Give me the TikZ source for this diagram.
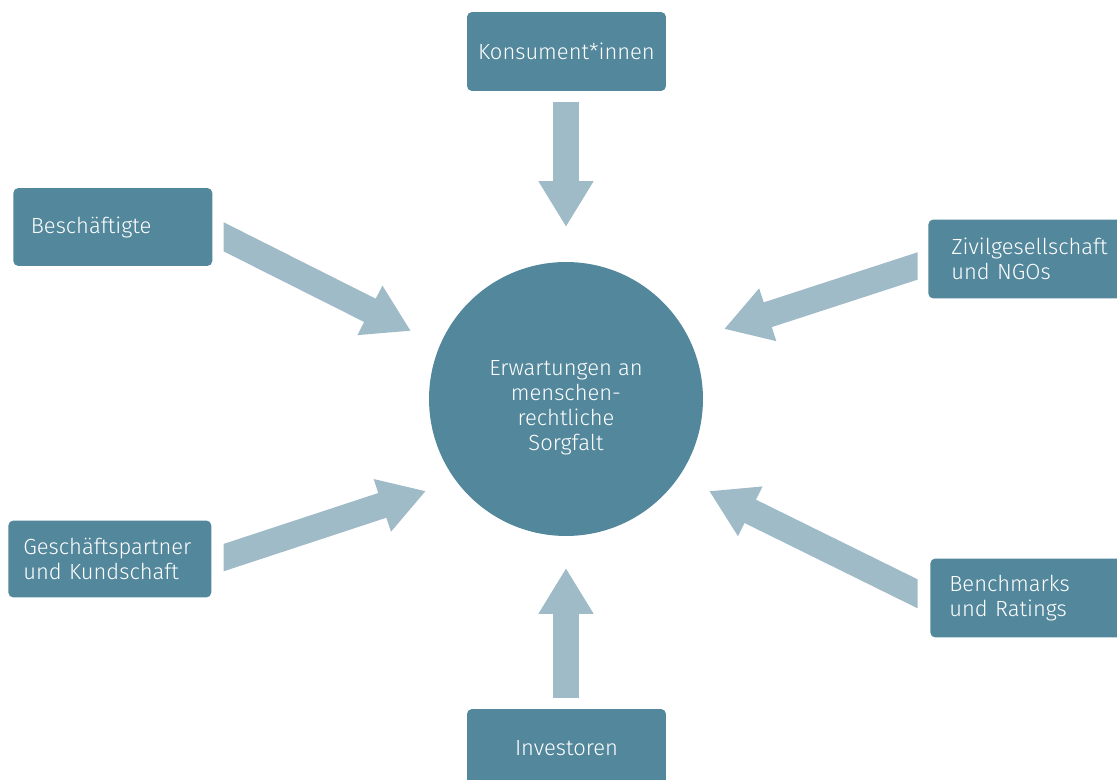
\documentclass[tikz,border=0pt]{standalone}
\usepackage{fontspec}
\setmainfont{Fira Sans}[UprightFont=* Light]
\usepackage{tikz}
\usetikzlibrary{arrows.meta}
\definecolor{stakeblue}{RGB}{83,135,155}
\definecolor{flowblue}{RGB}{158,187,199}
\tikzset{
	blk/.style={fill=stakeblue, rounded corners=0.1cm, text=white, align=center,
		minimum width=3.98cm, minimum height=1.58cm,
		font=\fontsize{12.5}{14.2}\selectfont},
	side/.style={blk, anchor=west, align=left, text width=3.26cm, inner xsep=0.36cm},
	hub/.style={circle, fill=stakeblue, text=white, align=center,
		minimum size=5.48cm, text height=61.3pt, text depth=3pt,
		font=\fontsize{12.5}{14.2}\selectfont},
	flow/.style={draw=flowblue, line width=0.52cm,
		-{Triangle[width=1.04cm,length=0.92cm]}},
}

\begin{document}
\begin{tikzpicture}[x=0.02cm, y=-0.02cm]
	\useasboundingbox (0,0) rectangle (1117,780);
	\clip (0,0) rectangle (1117,780);
	% centre
	\node[hub] at (566,399) (hub) {Erwartungen an\\menschen-\\rechtliche\\Sorgfalt};
	% stakeholders
	\node[blk] at (566.5,51.5) (kons) {Konsument*innen};
	\node[blk] at (566.5,748.5) (inv) {Investoren};
	\node[side, text width=3.28cm, inner xsep=0.34cm, minimum height=1.56cm] at (13,227) (besch) {Beschäftigte};
	\node[side, text width=3.46cm, inner xsep=0.3cm, minimum height=1.54cm] at (8,559) (gesch) {Geschäftspartner\\und Kundschaft};
	\node[side, text width=3.3cm, inner xsep=0.46cm] at (928,259) (ziv) {Zivilgesellschaft\\und NGOs};
	\node[side, text width=3.3cm, inner xsep=0.38cm] at (930,598) (bench) {Benchmarks\\und Ratings};
	% arrow ends
	\coordinate (kons-s) at (566,102);
	\coordinate (kons-e) at (566,227);
	\coordinate (inv-s) at (566,698);
	\coordinate (inv-e) at (566,568);
	\coordinate (besch-s) at (205,227.45);
	\coordinate (besch-e) at (411,331);
	\coordinate (ziv-s) at (935,260.3);
	\coordinate (ziv-e) at (724,329);
	\coordinate (gesch-s) at (205,563.75);
	\coordinate (gesch-e) at (426,491);
	\coordinate (bench-s) at (935,602.4);
	\coordinate (bench-e) at (709,491);
	\draw[flow] (kons-s) -- (kons-e);
	\draw[flow] (inv-s) -- (inv-e);
	% side arrows, tails cut upright
	\begin{scope}
		\clip (223.5,0) rectangle (917.5,780);
		\draw[flow] (besch-s) -- (besch-e);
		\draw[flow] (ziv-s) -- (ziv-e);
		\draw[flow] (gesch-s) -- (gesch-e);
		\draw[flow] (bench-s) -- (bench-e);
	\end{scope}
\end{tikzpicture}
\end{document}
